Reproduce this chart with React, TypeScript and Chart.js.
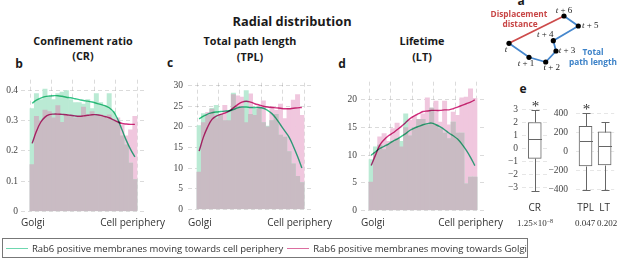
import React, { useEffect, useRef } from "react";
import { Chart, registerables } from "chart.js";

Chart.register(...registerables);

// ---------- DATA ----------
// Panel b: Confinement ratio (25 radial bins, Golgi -> cell periphery)
const crGreenBars = [0.34, 0.39, 0.37, 0.405, 0.38, 0.37, 0.39, 0.395, 0.4, 0.37, 0.36, 0.36, 0.355, 0.37, 0.34, 0.39, 0.36, 0.35, 0.39, 0.33, 0.3, 0.25, 0.22, 0.16, 0.105];
const crPinkBars = [0.155, 0.315, 0.3, 0.335, 0.33, 0.31, 0.35, 0.295, 0.32, 0.315, 0.31, 0.315, 0.345, 0.32, 0.33, 0.315, 0.32, 0.315, 0.32, 0.3, 0.31, 0.285, 0.25, 0.27, 0.315];
const crGreenLine = [0.358, 0.368, 0.375, 0.38, 0.382, 0.383, 0.383, 0.381, 0.378, 0.376, 0.373, 0.37, 0.367, 0.365, 0.362, 0.358, 0.354, 0.35, 0.343, 0.33, 0.305, 0.27, 0.235, 0.205, 0.18];
const crPinkLine = [0.225, 0.265, 0.295, 0.312, 0.32, 0.322, 0.322, 0.321, 0.32, 0.318, 0.316, 0.315, 0.316, 0.318, 0.32, 0.32, 0.318, 0.314, 0.31, 0.303, 0.296, 0.291, 0.289, 0.288, 0.288];
const crYTicks = [0, 0.1, 0.2, 0.3, 0.4];

// Panel c: Total path length
const tplGreenBars = [20.3, 23.2, 22.8, 24.5, 25.2, 23.0, 21.5, 24.0, 28.2, 25.0, 24.5, 28.8, 23.0, 24.5, 24.5, 21.0, 20.2, 21.5, 23.0, 18.0, 17.5, 14.0, 11.0, 8.0, 6.5];
const tplPinkBars = [9.0, 21.0, 23.5, 24.3, 22.0, 23.0, 25.2, 21.5, 27.8, 27.5, 27.2, 21.0, 28.0, 22.8, 25.0, 26.3, 20.0, 25.0, 24.0, 25.5, 22.0, 24.5, 26.5, 27.8, 22.8];
const tplGreenLine = [21.9, 22.6, 23.1, 23.4, 23.6, 23.7, 23.8, 23.9, 24.2, 24.6, 24.8, 24.8, 24.7, 24.7, 24.7, 24.5, 24.0, 23.2, 22.0, 20.5, 19.0, 17.5, 15.3, 12.8, 10.0];
const tplPinkLine = [14.1, 17.5, 20.0, 21.8, 22.6, 23.0, 23.3, 23.8, 24.6, 25.4, 26.0, 26.2, 26.0, 25.6, 25.3, 25.0, 24.8, 24.7, 24.6, 24.5, 24.4, 24.4, 24.5, 24.6, 24.7];
const tplYTicks = [0, 5, 10, 15, 20, 25, 30];

// Panel d: Lifetime
const ltGreenBars = [9.2, 11.5, 11.8, 11.0, 12.0, 12.5, 13.0, 12.5, 17.5, 13.5, 15.0, 16.5, 16.5, 15.5, 18.5, 15.5, 14.8, 14.0, 13.0, 16.0, 14.0, 14.0, 4.8, 6.0, 6.0];
const ltPinkBars = [5.1, 10.5, 13.3, 13.9, 12.5, 14.8, 15.8, 11.5, 15.0, 16.3, 17.0, 16.5, 17.5, 20.4, 18.5, 19.8, 16.0, 19.8, 15.5, 17.8, 17.2, 20.4, 20.5, 22.0, 20.3];
const ltGreenLine = [10.0, 10.6, 11.2, 11.6, 12.0, 12.5, 12.9, 13.4, 13.9, 14.5, 14.9, 15.2, 15.5, 15.7, 15.8, 15.5, 15.1, 14.6, 14.0, 13.5, 12.9, 12.0, 10.9, 9.6, 8.1];
const ltPinkLine = [8.1, 10.0, 11.8, 12.8, 13.5, 14.0, 14.6, 15.2, 15.9, 16.6, 17.1, 17.5, 17.9, 18.0, 18.1, 18.1, 18.1, 18.2, 18.2, 18.4, 18.7, 19.0, 19.3, 19.6, 20.0];
const ltYTicks = [0, 5, 10, 15, 20];

const radialGrid = [0, 0.2, 0.4, 0.6, 0.8, 1];

// Panel e: box plots
const boxLabelsA = ["CR"];
const boxMinA = [-3.26];
const boxQ1A = [-0.78];
const boxMedA = [0.73];
const boxQ3A = [2.0];
const boxMaxA = [3.0];
const boxSigA = [true];
const boxPA = ["1.25×10^−8"];
const boxYTicksA = [-3, -2, -1, 0, 1, 2, 3];

const boxLabelsB = ["TPL", "LT"];
const boxMinB = [-412, -408];
const boxQ1B = [-155, -142];
const boxMedB = [109, 56];
const boxQ3B = [263, 204];
const boxMaxB = [400, 307];
const boxSigB = [true, false];
const boxPB = ["0.047", "0.202"];
const boxYTicksB = [-400, -200, 0, 200, 400];

// Panel a: schematic trajectory
const trajX = [0, 20, 36.7, 47, 44.3, 69.3, 55];
const trajY = [26.7, 12.7, 8, 19, 29.3, 44, 54];
const trajSteps = ["", " + 1", " + 2", " + 3", " + 4", " + 5", " + 6"];

// ---------- STYLE ----------
const SERIF = "'Liberation Serif', 'Times New Roman', serif";
const SANS = "'Open Sans', 'Noto Sans', sans-serif";
const GREEN_BAR = "rgb(186,234,212)";
const PINK_BAR = "rgb(240,199,222)";
const BOTH_BAR = "rgb(201,187,195)";
const GREEN_LINE = "rgb(50,196,135)";
const PINK_LINE = "rgb(208,45,125)";
const GRID = "rgba(0,0,0,0.14)";
const BOX_COLOR = "#666";

type Area = { left: number; right: number; top: number; bottom: number };

type HistSpec = {
  green: number[];
  pink: number[];
  greenLine: number[];
  pinkLine: number[];
  yTicks: number[];
  yMax: number;
  area: Area;
  binsLeft: number;
  binsRight: number;
  yAxisW: number;
  tickPad: number;
};

const HIST_PAD_TOP = 8;
const HIST_PAD_BOTTOM = 8;

function histCanvasRect(s: HistSpec) {
  return {
    left: s.area.left - s.yAxisW,
    top: s.area.top - HIST_PAD_TOP,
    width: s.yAxisW + s.area.right - s.area.left,
    height: HIST_PAD_TOP + s.area.bottom - s.area.top + HIST_PAD_BOTTOM,
  };
}

// lines are multiplied onto the bars so they darken where the bars overlap
const multiplyLines = {
  id: "multiplyLines",
  beforeDatasetDraw(chart: any, args: any) {
    if (args.meta.type === "line") {
      chart.ctx.save();
      chart.ctx.globalCompositeOperation = "multiply";
    }
  },
  afterDatasetDraw(chart: any, args: any) {
    if (args.meta.type === "line") chart.ctx.restore();
  },
};

function makeHist(canvas: HTMLCanvasElement, s: HistSpec) {
  const span = s.binsRight - s.binsLeft;
  const xMin = -(s.binsLeft - s.area.left) / span;
  const xMax = 1 + (s.area.right - s.binsRight) / span;
  const n = s.green.length;
  const pts = (arr: number[]) => arr.map((v, i) => ({ x: (i + 0.5) / n, y: v }));
  const both = s.green.map((g, i) => Math.min(g, s.pink[i]));
  const barCommon = { grouped: false, barPercentage: 1, categoryPercentage: 1, borderWidth: 0 };
  return new Chart(canvas, {
    type: "bar",
    data: {
      datasets: [
        { type: "line", data: pts(s.pinkLine), borderColor: PINK_LINE, borderWidth: 1.4, pointRadius: 0, tension: 0.4, order: 0 } as any,
        { type: "line", data: pts(s.greenLine), borderColor: GREEN_LINE, borderWidth: 1.4, pointRadius: 0, tension: 0.4, order: 0 } as any,
        { type: "bar", data: pts(both), backgroundColor: BOTH_BAR, order: 1, ...barCommon } as any,
        { type: "bar", data: pts(s.green), backgroundColor: GREEN_BAR, order: 2, ...barCommon } as any,
        { type: "bar", data: pts(s.pink), backgroundColor: PINK_BAR, order: 3, ...barCommon } as any,
      ],
    },
    options: {
      responsive: false,
      animation: false,
      layout: { padding: { top: HIST_PAD_TOP, bottom: HIST_PAD_BOTTOM, left: 0, right: 0 }, autoPadding: false } as any,
      plugins: { legend: { display: false }, tooltip: { enabled: false } },
      scales: {
        x: {
          type: "linear",
          min: xMin,
          max: xMax,
          offset: false,
          z: 1,
          afterBuildTicks: (sc: any) => {
            sc.ticks = radialGrid.map((v) => ({ value: v }));
          },
          afterFit: (sc: any) => {
            sc.height = 0;
          },
          ticks: { display: false },
          grid: { color: GRID, drawTicks: false, offset: false },
          border: { display: false, dash: [4, 3] },
        } as any,
        y: {
          min: 0,
          max: s.yMax,
          z: 1,
          afterBuildTicks: (sc: any) => {
            sc.ticks = s.yTicks.map((v) => ({ value: v }));
          },
          afterFit: (sc: any) => {
            sc.width = s.yAxisW;
          },
          ticks: { padding: s.tickPad, font: { family: SERIF, size: 9.5 }, color: "#444" },
          grid: { color: GRID, drawTicks: false },
          border: { display: false, dash: [4, 3] },
        } as any,
      },
    },
    plugins: [multiplyLines as any],
  });
}

type BoxSpec = {
  labels: string[];
  min: number[];
  q1: number[];
  med: number[];
  q3: number[];
  max: number[];
  sig: boolean[];
  yTicks: number[];
  yMin: number;
  yMax: number;
  area: Area;
  yAxisW: number;
  tickPad: number;
};

const BOX_PAD_TOP = 8;
const BOX_X_AXIS_H = 22;

function boxCanvasRect(s: BoxSpec) {
  return {
    left: s.area.left - s.yAxisW,
    top: s.area.top - BOX_PAD_TOP,
    width: s.yAxisW + s.area.right - s.area.left,
    height: BOX_PAD_TOP + s.area.bottom - s.area.top + BOX_X_AXIS_H,
  };
}

function makeBox(canvas: HTMLCanvasElement, s: BoxSpec) {
  const whiskers = {
    id: "whiskers",
    afterDatasetsDraw(chart: any) {
      const { ctx } = chart;
      const xs = chart.scales.x;
      const ys = chart.scales.y;
      const yy = (v: number) => Math.round(ys.getPixelForValue(v)) + 0.5;
      ctx.save();
      ctx.strokeStyle = BOX_COLOR;
      ctx.lineWidth = 1;
      s.labels.forEach((_, i) => {
        const cx = Math.round(xs.getPixelForValue(i)) + 0.5;
        ctx.beginPath();
        ctx.moveTo(cx, yy(s.q3[i]));
        ctx.lineTo(cx, yy(s.max[i]));
        ctx.moveTo(cx, yy(s.q1[i]));
        ctx.lineTo(cx, yy(s.min[i]));
        ctx.moveTo(cx - 4, yy(s.max[i]));
        ctx.lineTo(cx + 4, yy(s.max[i]));
        ctx.moveTo(cx - 4, yy(s.min[i]));
        ctx.lineTo(cx + 4, yy(s.min[i]));
        ctx.moveTo(cx - 6.5, yy(s.med[i]));
        ctx.lineTo(cx + 6.5, yy(s.med[i]));
        ctx.stroke();
        if (s.sig[i]) {
          ctx.fillStyle = "#333";
          ctx.font = `15px ${SERIF}`;
          ctx.textAlign = "center";
          ctx.textBaseline = "top";
          ctx.fillText("*", cx, yy(s.max[i]) - 11);
        }
      });
      ctx.restore();
    },
  };
  return new Chart(canvas, {
    type: "bar",
    data: {
      labels: s.labels,
      datasets: [
        {
          data: s.q1.map((q, i) => [q, s.q3[i]]),
          backgroundColor: "#ffffff",
          borderColor: BOX_COLOR,
          borderWidth: 1,
          borderSkipped: false,
          barThickness: 13,
        } as any,
      ],
    },
    options: {
      responsive: false,
      animation: false,
      layout: { padding: { top: BOX_PAD_TOP, bottom: 0, left: 0, right: 0 }, autoPadding: false } as any,
      plugins: { legend: { display: false }, tooltip: { enabled: false } },
      scales: {
        x: {
          afterFit: (sc: any) => {
            sc.height = BOX_X_AXIS_H;
          },
          ticks: { padding: 8, font: { family: SANS, size: 10 }, color: "#333", maxRotation: 0, minRotation: 0, autoSkip: false },
          grid: { display: false, drawTicks: false },
          border: { display: false },
        } as any,
        y: {
          min: s.yMin,
          max: s.yMax,
          afterBuildTicks: (sc: any) => {
            sc.ticks = s.yTicks.map((v) => ({ value: v }));
          },
          afterFit: (sc: any) => {
            sc.width = s.yAxisW;
          },
          ticks: {
            padding: s.tickPad,
            font: { family: SERIF, size: 9.5 },
            color: "#444",
            callback: (v: any) => String(v).replace("-", "\u2212"),
          },
          grid: { color: "#e6e6e6", drawTicks: false },
          border: { display: false, dash: [4, 3] },
        } as any,
      },
    },
    plugins: [whiskers as any],
  });
}

function makeDiagram(canvas: HTMLCanvasElement) {
  const labelDx = [-3, -3, 6, 11, -8, 12, 0];
  const labelDy = [6, 6, 6, 0, -6, 0, -5];
  const labels = {
    id: "trajLabels",
    afterDatasetsDraw(chart: any) {
      const meta = chart.getDatasetMeta(1);
      const ctx = chart.ctx;
      ctx.save();
      ctx.fillStyle = "#222";
      ctx.textBaseline = "middle";
      ctx.textAlign = "left";
      const it = `italic 9px ${SERIF}`;
      const rm = `9px ${SERIF}`;
      meta.data.forEach((pt: any, i: number) => {
        const suffix = trajSteps[i];
        ctx.font = it;
        const wt = ctx.measureText("t").width;
        ctx.font = rm;
        const ws = ctx.measureText(suffix).width;
        const x0 = pt.x + labelDx[i] - (wt + ws) / 2;
        const y0 = pt.y + labelDy[i];
        ctx.font = it;
        ctx.fillText("t", x0, y0);
        ctx.font = rm;
        ctx.fillText(suffix, x0 + wt, y0);
      });
      ctx.restore();
    },
  };
  const pts = trajX.map((x, i) => ({ x, y: trajY[i] }));
  const last = pts.length - 1;
  return new Chart(canvas, {
    type: "scatter",
    data: {
      datasets: [
        {
          data: [pts[0], pts[last]],
          showLine: true,
          borderColor: "rgb(205,75,75)",
          borderWidth: 1.8,
          pointRadius: 0,
          order: 2,
        } as any,
        {
          data: pts,
          showLine: true,
          borderColor: "rgb(70,135,205)",
          borderWidth: 1.8,
          pointRadius: 2.6,
          pointBackgroundColor: "#000",
          pointBorderWidth: 0,
          order: 1,
        } as any,
      ],
    },
    options: {
      responsive: false,
      animation: false,
      layout: { padding: 0, autoPadding: false } as any,
      plugins: { legend: { display: false }, tooltip: { enabled: false } },
      scales: {
        x: { type: "linear", display: false, min: -19, max: 108 },
        y: { type: "linear", display: false, min: -5, max: 70 },
      },
    },
    plugins: [labels as any],
  });
}

// ---------- SPECS ----------
const histB: HistSpec = {
  green: crGreenBars, pink: crPinkBars, greenLine: crGreenLine, pinkLine: crPinkLine,
  yTicks: crYTicks, yMax: 0.436,
  area: { left: 21, right: 146, top: 79, bottom: 212 },
  binsLeft: 30, binsRight: 137, yAxisW: 21, tickPad: 3,
};
const histC: HistSpec = {
  green: tplGreenBars, pink: tplPinkBars, greenLine: tplGreenLine, pinkLine: tplPinkLine,
  yTicks: tplYTicks, yMax: 30.7,
  area: { left: 188, right: 313, top: 80, bottom: 212 },
  binsLeft: 197, binsRight: 304, yAxisW: 25, tickPad: 5,
};
const histD: HistSpec = {
  green: ltGreenBars, pink: ltPinkBars, greenLine: ltGreenLine, pinkLine: ltPinkLine,
  yTicks: ltYTicks, yMax: 23.3,
  area: { left: 361, right: 486, top: 80, bottom: 212 },
  binsLeft: 369, binsRight: 477, yAxisW: 25, tickPad: 4,
};
const boxA: BoxSpec = {
  labels: boxLabelsA, min: boxMinA, q1: boxQ1A, med: boxMedA, q3: boxQ3A, max: boxMaxA, sig: boxSigA,
  yTicks: boxYTicksA, yMin: -3.53, yMax: 3.53,
  area: { left: 522, right: 549, top: 101, bottom: 194 }, yAxisW: 22, tickPad: 4,
};
const boxB: BoxSpec = {
  labels: boxLabelsB, min: boxMinB, q1: boxQ1B, med: boxMedB, q3: boxQ3B, max: boxMaxB, sig: boxSigB,
  yTicks: boxYTicksB, yMin: -449, yMax: 469,
  area: { left: 576, right: 618, top: 101, bottom: 194 }, yAxisW: 30, tickPad: 8,
};

// ---------- COMPONENTS ----------
function HistCanvas({ spec }: { spec: HistSpec }) {
  const ref = useRef<HTMLCanvasElement | null>(null);
  const r = histCanvasRect(spec);
  useEffect(() => {
    const c = makeHist(ref.current!, spec);
    return () => c.destroy();
  }, []);
  return <canvas ref={ref} width={r.width} height={r.height} style={{ position: "absolute", left: r.left, top: r.top, width: r.width, height: r.height }} />;
}

function BoxCanvas({ spec }: { spec: BoxSpec }) {
  const ref = useRef<HTMLCanvasElement | null>(null);
  const r = boxCanvasRect(spec);
  useEffect(() => {
    const c = makeBox(ref.current!, spec);
    return () => c.destroy();
  }, []);
  return <canvas ref={ref} width={r.width} height={r.height} style={{ position: "absolute", left: r.left, top: r.top, width: r.width, height: r.height }} />;
}

function DiagramCanvas() {
  const ref = useRef<HTMLCanvasElement | null>(null);
  useEffect(() => {
    const c = makeDiagram(ref.current!);
    return () => c.destroy();
  }, []);
  return <canvas ref={ref} width={127} height={75} style={{ position: "absolute", left: 490, top: 0, width: 127, height: 75 }} />;
}

function T({ x, y, children, style, anchor = "center" }: { x: number; y: number; children: any; style?: any; anchor?: "center" | "left" | "right" }) {
  const tx = anchor === "center" ? "-50%" : anchor === "right" ? "-100%" : "0";
  return (
    <div
      style={{
        position: "absolute",
        left: x,
        top: y,
        transform: `translate(${tx}, -50%)`,
        whiteSpace: "nowrap",
        lineHeight: 1,
        fontFamily: SANS,
        ...style,
      }}
    >
      {children}
    </div>
  );
}

function PValue({ x, text }: { x: number; text: string }) {
  const [base, exp] = text.split("^");
  return (
    <T x={x} y={223} style={{ fontFamily: SERIF, fontSize: 9, color: "#333" }}>
      {base}
      {exp ? <sup style={{ fontSize: 6, verticalAlign: "3px" }}>{exp}</sup> : null}
    </T>
  );
}

export default function App() {
  const title = { fontWeight: 700, fontSize: 10.8, color: "#1a1a1a" };
  const letter = { fontWeight: 700, fontSize: 12, color: "#1a1a1a" };
  const axisLab = { fontSize: 10, color: "#333" };
  const red = { fontWeight: 700, fontSize: 8.3, color: "rgb(200,70,70)" };
  const blue = { fontWeight: 700, fontSize: 8.3, color: "rgb(60,130,200)" };
  return (
    <div style={{ position: "absolute", left: 0, top: 0, width: 617, height: 260, overflow: "hidden", background: "#fff" }}>
      <T x={292} y={21} style={{ fontWeight: 700, fontSize: 12.8, color: "#1a1a1a" }}>Radial distribution</T>

      <T x={83} y={41} style={title}>Confinement ratio</T>
      <T x={83} y={56} style={title}>(CR)</T>
      <T x={250} y={41} style={title}>Total path length</T>
      <T x={250} y={57} style={title}>(TPL)</T>
      <T x={422} y={41} style={title}>Lifetime</T>
      <T x={422} y={57} style={title}>(LT)</T>

      <T x={19} y={64} style={letter}>b</T>
      <T x={170} y={63} style={letter}>c</T>
      <T x={342} y={64} style={letter}>d</T>
      <T x={523} y={89} style={letter}>e</T>
      <T x={521} y={1} style={letter}>a</T>

      <HistCanvas spec={histB} />
      <HistCanvas spec={histC} />
      <HistCanvas spec={histD} />

      <T x={21} y={222} anchor="left" style={axisLab}>Golgi</T>
      <T x={165} y={222} anchor="right" style={axisLab}>Cell periphery</T>
      <T x={188} y={222} anchor="left" style={axisLab}>Golgi</T>
      <T x={332} y={222} anchor="right" style={axisLab}>Cell periphery</T>
      <T x={361} y={222} anchor="left" style={axisLab}>Golgi</T>
      <T x={503} y={222} anchor="right" style={axisLab}>Cell periphery</T>

      <DiagramCanvas />
      <T x={519} y={14} style={red}>Displacement</T>
      <T x={520} y={24} style={red}>distance</T>
      <T x={593} y={52} style={blue}>Total</T>
      <T x={593} y={62} style={blue}>path length</T>

      <BoxCanvas spec={boxA} />
      <BoxCanvas spec={boxB} />
      <PValue x={535} text={boxPA[0]} />
      <PValue x={585} text={boxPB[0]} />
      <PValue x={607} text={boxPB[1]} />

      <div
        style={{
          position: "absolute",
          left: 2,
          top: 238,
          width: 526,
          height: 20,
          boxSizing: "border-box",
          border: "1px solid #777",
          display: "flex",
          alignItems: "center",
          fontFamily: SANS,
          fontSize: 9.5,
          color: "#333",
          whiteSpace: "nowrap",
        }}
      >
        <span style={{ display: "inline-block", width: 26, height: 0, borderTop: "1.5px solid rgb(110,215,175)", marginLeft: 3, marginRight: 4 }} />
        <span>Rab6 positive membranes moving towards cell periphery</span>
        <span style={{ display: "inline-block", width: 26, height: 0, borderTop: "1.5px solid rgb(220,110,160)", marginLeft: 4, marginRight: 4 }} />
        <span>Rab6 positive membranes moving towards Golgi</span>
      </div>
    </div>
  );
}
